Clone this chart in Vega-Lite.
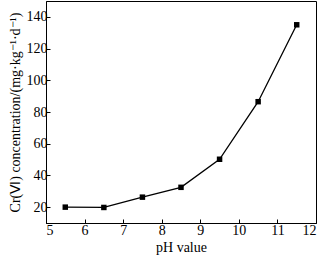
{
  "$schema": "https://vega.github.io/schema/vega-lite/v6.json",
  "width": 270,
  "height": 222,
  "autosize": {"type": "none"},
  "padding": {"left": 46, "top": 1, "right": 7, "bottom": 33},
  "background": "white",
  "config": {
    "font": "Liberation Serif",
    "view": {"stroke": "black", "strokeWidth": 1},
    "axis": {
      "grid": false,
      "domainColor": "black",
      "tickColor": "black",
      "tickSize": -4,
      "labelColor": "black",
      "titleColor": "black",
      "labelFontSize": 14,
      "titleFontSize": 14,
      "titleFontWeight": "normal",
      "labelFont": "Liberation Serif",
      "titleFont": "Liberation Serif"
    }
  },
  "data": {
    "values": [
      {"pH": 5.5, "conc": 20},
      {"pH": 6.5, "conc": 19.8},
      {"pH": 7.5, "conc": 26.3},
      {"pH": 8.5, "conc": 32.5},
      {"pH": 9.5, "conc": 50.2},
      {"pH": 10.5, "conc": 86.5},
      {"pH": 11.5, "conc": 135}
    ]
  },
  "mark": {"type": "line", "color": "black", "strokeWidth": 1.3, "point": {"shape": "square", "size": 30, "filled": true, "color": "black"}},
  "encoding": {
    "x": {
      "field": "pH", "type": "quantitative",
      "scale": {"domain": [5, 12], "nice": false},
      "axis": {"values": [5, 6, 7, 8, 9, 10, 11, 12], "title": "pH value", "labelPadding": 4, "titlePadding": 3}
    },
    "y": {
      "field": "conc", "type": "quantitative",
      "scale": {"domain": [10, 150], "nice": false, "zero": false},
      "axis": {"values": [20, 40, 60, 80, 100, 120, 140], "title": "Cr(Ⅵ) concentration/(mg·kg⁻¹·d⁻¹)", "labelPadding": 3, "titlePadding": 4}
    }
  }
}
